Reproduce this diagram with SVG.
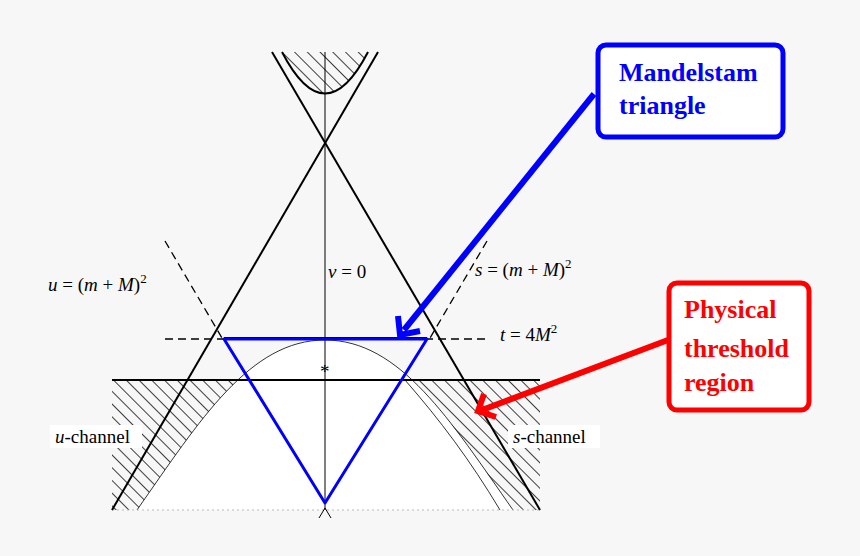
<svg xmlns="http://www.w3.org/2000/svg" width="860" height="556" viewBox="0 0 860 556">
<style>
.l{stroke:#000;fill:none}
.m{font-family:"Liberation Serif",serif;font-size:19px;fill:#000}
.i{font-style:italic}
.b{font-family:"Liberation Serif",serif;font-weight:bold;font-size:26px}
</style>
<defs>
<pattern id="h" width="9" height="9" patternUnits="userSpaceOnUse" patternTransform="rotate(-45)">
<line x1="0" y1="0" x2="0" y2="9" stroke="#000" stroke-width="1.5"/>
</pattern>
<clipPath id="topc"><path d="M282,52 Q325,135 368,52 Z"/></clipPath>
</defs>
<rect width="860" height="556" fill="#f7f7f7"/>
<g id="regions">
<rect x="112" y="380" width="428" height="130" fill="url(#h)"/>
<path d="M137,510 C200,420 250,340 325,340 C400,340 450,420 513,510 Z" fill="#fff"/>
<rect x="282" y="52" width="86" height="45" fill="url(#h)" clip-path="url(#topc)"/>
<path d="M282,52 Q325,135 368,52" class="l" stroke-width="2"/>
<path d="M137,510 C200,420 250,340 325,340 C400,340 450,420 513,510" class="l" stroke-width="0.8" stroke="#444"/>
<path d="M405,380 C440,420 470,460 500,510" class="l" stroke-width="0.8" stroke="#444"/>
<line x1="112" y1="510" x2="540" y2="510" stroke="#bbb" stroke-dasharray="2,3"/>
</g>
<g id="connectors">
<line x1="272" y1="52" x2="540" y2="510" class="l" stroke-width="2"/>
<line x1="378" y1="52" x2="112" y2="510" class="l" stroke-width="2"/>
<line x1="325" y1="52" x2="325" y2="510" class="l" stroke-width="1"/>
<line x1="112" y1="380" x2="540" y2="380" class="l" stroke-width="2"/>
<line x1="165" y1="241" x2="222" y2="338" class="l" stroke-dasharray="8,5" stroke-width="1.3"/>
<line x1="487" y1="241" x2="430" y2="338" class="l" stroke-dasharray="8,5" stroke-width="1.3"/>
<line x1="165" y1="339" x2="487" y2="339" class="l" stroke-dasharray="8,5" stroke-width="1.3"/>
<line x1="224" y1="338" x2="427" y2="338" class="l" stroke-width="2"/>
<path d="M319,518 L325,508 L331,518" class="l"/>
<polygon points="224,339 427,339 325,503" fill="none" stroke="#00f" stroke-width="3" stroke-linejoin="round"/>
<line x1="594" y1="94" x2="404" y2="330" stroke="#00f" stroke-width="6"/>
<path d="M398,316 L400,335 L420,331" fill="none" stroke="#00f" stroke-width="6"/>
<line x1="668" y1="340" x2="482" y2="410" stroke="#f00" stroke-width="6"/>
<path d="M484,394 L478,411 L496,417" fill="none" stroke="#f00" stroke-width="6"/>
</g>
<g id="labels">
<text x="320" y="378" class="m">*</text>
<text x="328" y="278" class="m"><tspan class="i">ν</tspan> = 0</text>
<text x="48" y="291" class="m"><tspan class="i">u</tspan> = (<tspan class="i">m</tspan> + <tspan class="i">M</tspan>)<tspan font-size="13" dy="-8">2</tspan></text>
<text x="475" y="276" class="m"><tspan class="i">s</tspan> = (<tspan class="i">m</tspan> + <tspan class="i">M</tspan>)<tspan font-size="13" dy="-8">2</tspan></text>
<text x="500" y="341" class="m"><tspan class="i">t</tspan> = 4<tspan class="i">M</tspan><tspan font-size="13" dy="-8">2</tspan></text>
<rect x="50" y="425" width="92" height="23" fill="#fff"/>
<text x="55" y="443" class="m"><tspan class="i">u</tspan>-channel</text>
<rect x="508" y="425" width="92" height="23" fill="#fff"/>
<text x="513" y="443" class="m"><tspan class="i">s</tspan>-channel</text>
</g>
<g id="mandelstam">
<rect x="598" y="45" width="185" height="92" rx="8" fill="#fff" stroke="#00f" stroke-width="5"/>
<text x="619" y="81" class="b" fill="#00f">Mandelstam</text>
<text x="619" y="114" class="b" fill="#00f">triangle</text>
</g>
<g id="physical">
<rect x="669" y="283" width="140" height="127" rx="8" fill="#fff" stroke="#f00" stroke-width="5"/>
<text x="684" y="318" class="b" fill="#f00">Physical</text>
<text x="684" y="357" class="b" fill="#f00">threshold</text>
<text x="684" y="391" class="b" fill="#f00">region</text>
</g>
</svg>
